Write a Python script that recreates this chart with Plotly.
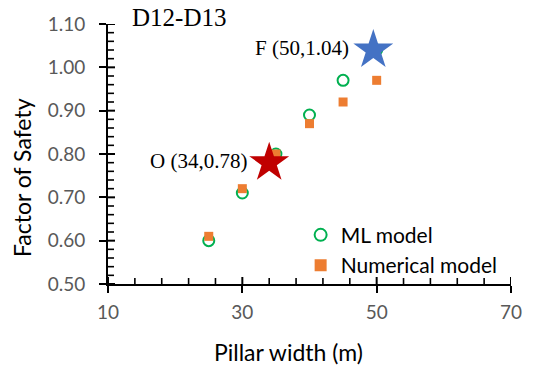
import plotly.graph_objects as go

pillar_width = [25, 30, 35, 40, 45, 50]
ml_fos = [0.60, 0.71, 0.80, 0.89, 0.97, 1.04]
num_fos = [0.61, 0.72, 0.80, 0.87, 0.92, 0.97]
opt_point = (34, 0.78)
fin_point = (49.5, 1.04)
opt_label = "O (34,0.78)"
fin_label = "F (50,1.04)"
title_text = "D12-D13"
x_title = "Pillar width (m)"
y_title = "Factor of Safety"
x_major = [10, 30, 50, 70]
y_major = [0.5, 0.6, 0.7, 0.8, 0.9, 1.0, 1.1]
x_minor_step = 4
y_minor_step = 0.02

fig = go.Figure()
fig.add_trace(go.Scatter(x=pillar_width, y=ml_fos, mode="markers", name="ML model",
                         marker=dict(symbol="circle-open", size=11, color="#00B050",
                                     line=dict(width=2, color="#00B050"))))
fig.add_trace(go.Scatter(x=pillar_width, y=num_fos, mode="markers", name="Numerical model",
                         marker=dict(symbol="square", size=9, color="#ED7D31")))
fig.add_trace(go.Scatter(x=[opt_point[0]], y=[opt_point[1]], mode="markers", showlegend=False,
                         marker=dict(symbol="star", size=30, color="#C00000")))
fig.add_trace(go.Scatter(x=[fin_point[0]], y=[fin_point[1]], mode="markers", showlegend=False,
                         marker=dict(symbol="star", size=30, color="#4472C4")))

serif = "Liberation Serif"
fig.add_annotation(x=opt_point[0], y=opt_point[1], text=opt_label, showarrow=False,
                   xanchor="right", xshift=-20, yshift=2, font=dict(family=serif, size=21, color="black"))
fig.add_annotation(x=fin_point[0], y=fin_point[1], text=fin_label, showarrow=False,
                   xanchor="right", xshift=-22, yshift=2, font=dict(family=serif, size=21, color="black"))
fig.add_annotation(x=0.055, y=1.0, xref="paper", yref="paper", text=title_text, showarrow=False,
                   xanchor="left", yanchor="middle", yshift=7, font=dict(family=serif, size=25, color="black"))

titlefont = dict(family="Lato", size=23, color="black")
fig.add_annotation(x=0.449, y=-0.2615, xref="paper", yref="paper", text=x_title, showarrow=False,
                   xanchor="center", yanchor="middle", font=titlefont)
fig.add_annotation(x=-0.2134, y=0.4115, xref="paper", yref="paper", text=y_title, showarrow=False,
                   textangle=-90, xanchor="center", yanchor="middle", font=titlefont)

# inside tick marks (decoration): minor ticks plus the inner half of the crossed major ticks
plot_w, plot_h = 546 - 108 - 35, 366 - 24 - 82
x_lo, x_hi = x_major[0], x_major[-1]
y_lo, y_hi = y_major[0], y_major[-1]
n_xm = int(round((x_hi - x_lo) / x_minor_step))
n_ym = int(round((y_hi - y_lo) / y_minor_step))
for i in range(n_xm + 1):
    v = x_lo + i * x_minor_step
    is_major = any(abs(v - m) < 1e-9 for m in x_major)
    ln = 7 if is_major else 6
    fig.add_shape(type="line", xref="x", yref="paper", x0=v, x1=v, y0=0, y1=ln / plot_h,
                  line=dict(color="black", width=2 if is_major else 1.6), layer="above")
for i in range(n_ym + 1):
    v = round(y_lo + i * y_minor_step, 4)
    is_major = any(abs(v - m) < 1e-9 for m in y_major)
    ln = 7 if is_major else 6
    fig.add_shape(type="line", xref="paper", yref="y", x0=0, x1=ln / plot_w, y0=v, y1=v,
                  line=dict(color="black", width=2 if is_major else 1.6), layer="above")

tickfont = dict(family="Lato", size=19, color="#595959")
fig.update_layout(
    width=546, height=366,
    margin=dict(l=108, r=35, t=24, b=82),
    paper_bgcolor="white", plot_bgcolor="white",
    showlegend=True,
    legend=dict(x=0.478, y=0.13, xanchor="left", yanchor="middle", bgcolor="rgba(0,0,0,0)",
                font=dict(family="Lato", size=21, color="black"), tracegroupgap=0,
                itemsizing="constant"),
    xaxis=dict(range=[x_lo, x_hi], tickvals=x_major, showline=True, linecolor="black", linewidth=2,
               showgrid=False, zeroline=False,
               ticks="outside", ticklen=7, tickwidth=2, tickcolor="black",
               tickfont=tickfont, ticklabelstandoff=3),
    yaxis=dict(range=[y_lo, y_hi], tickvals=y_major, tickformat=".2f",
               showline=True, linecolor="black", linewidth=2, showgrid=False, zeroline=False,
               ticks="outside", ticklen=7, tickwidth=2, tickcolor="black",
               tickfont=tickfont, ticklabelstandoff=10),
)
fig.write_html("out.html")
